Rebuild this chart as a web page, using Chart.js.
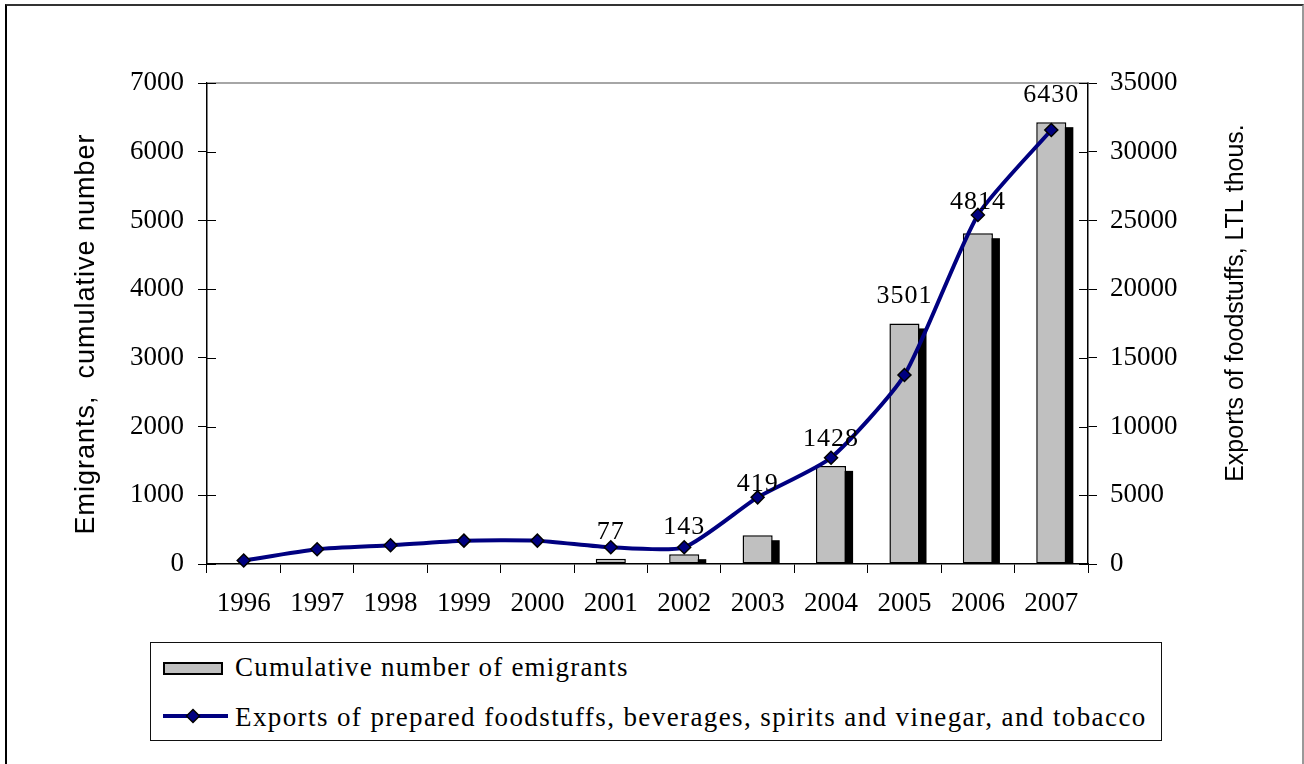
<!DOCTYPE html>
<html>
<head>
<meta charset="utf-8">
<script src="https://cdn.jsdelivr.net/npm/chart.js@4.4.0/dist/chart.umd.min.js"></script>
<style>
html,body{margin:0;padding:0;background:#fff;}
#wrap{position:relative;width:1304px;height:764px;overflow:hidden;background:#fff;}
#frame{position:absolute;left:5px;top:4px;width:1299px;height:800px;border-top:2px solid #333;border-left:2px solid #000;border-right:2px solid #999;box-sizing:border-box;}
canvas{position:absolute;left:0;top:0;}
#legend{position:absolute;left:150px;top:642px;width:1012px;height:99px;border:1px solid #111;box-sizing:border-box;font-family:'Liberation Serif','Times New Roman',serif;font-size:27px;letter-spacing:1.4px;color:#000;background:#fff;}
#legend .txt{position:absolute;left:84px;line-height:30px;white-space:nowrap;}
#legend .sw1{position:absolute;left:12px;top:19px;width:60px;height:13px;background:#c0c0c0;border:2px solid #000;box-sizing:border-box;}
#legend svg{position:absolute;left:12px;top:64px;}
</style>
</head>
<body>
<div id="wrap">
  <div id="frame"></div>
  <canvas id="c" width="1304" height="764"></canvas>
  <div id="legend">
    <div class="sw1"></div>
    <div class="txt" style="top:9px;letter-spacing:1.2px">Cumulative number of emigrants</div>
    <svg width="68" height="18" viewBox="0 0 68 18">
      <line x1="0" y1="9" x2="65" y2="9" stroke="#000080" stroke-width="4"/>
      <polygon points="30,2.5 36.5,9 30,15.5 23.5,9" fill="#000080" stroke="#000" stroke-width="1.5"/>
    </svg>
    <div class="txt" style="top:59px">Exports of prepared foodstuffs, beverages, spirits and vinegar, and tobacco</div>
  </div>
</div>
<script>
// ---- data ----
const years = ['1996','1997','1998','1999','2000','2001','2002','2003','2004','2005','2006','2007'];
const emigrants = [null, null, null, null, null, 77, 143, 419, 1428, 3501, 4814, 6430];
const exportsFood = [250, 1070, 1360, 1700, 1700, 1215, 1215, 4850, 7735, 13750, 25400, 31580];
const leftAxisMax = 7000, leftAxisStep = 1000;
const rightAxisMax = 35000, rightAxisStep = 5000;
const leftTitle = 'Emigrants,  cumulative number';
const rightTitle = 'Exports of foodstuffs, LTL thous.';

const SERIF = "'Liberation Serif','Times New Roman',serif";
const SANS = "'Liberation Sans',Arial,sans-serif";

const decor = {
  id: 'decor',
  beforeDatasetsDraw(chart) {
    const ctx = chart.ctx, a = chart.chartArea;
    const meta = chart.getDatasetMeta(0);
    ctx.save();
    ctx.beginPath();
    ctx.rect(a.left, a.top, a.right - a.left, a.bottom - a.top);
    ctx.clip();
    ctx.fillStyle = '#000';
    meta.data.forEach((bar, i) => {
      if (emigrants[i] == null) return;
      const p = bar.getProps(['x', 'y', 'base', 'width'], true);
      ctx.fillRect(p.x - p.width / 2 + 7, p.y + 5, p.width, p.base - p.y);
    });
    ctx.restore();
  },
  afterDraw(chart) {
    const ctx = chart.ctx, a = chart.chartArea;
    ctx.save();
    // top border of plot
    ctx.strokeStyle = '#888';
    ctx.lineWidth = 1.5;
    ctx.beginPath();
    ctx.moveTo(a.left, a.top);
    ctx.lineTo(a.right, a.top);
    ctx.stroke();
    // inner tick marks
    ctx.strokeStyle = '#000';
    ctx.lineWidth = 1;
    const ys = chart.scales.y, y2 = chart.scales.y2;
    ys.ticks.forEach(t => {
      const py = Math.round(ys.getPixelForValue(t.value)) + 0.5;
      ctx.beginPath(); ctx.moveTo(a.left, py); ctx.lineTo(a.left + 9, py); ctx.stroke();
    });
    y2.ticks.forEach(t => {
      const py = Math.round(y2.getPixelForValue(t.value)) + 0.5;
      ctx.beginPath(); ctx.moveTo(a.right - 9, py); ctx.lineTo(a.right, py); ctx.stroke();
    });
    // data labels
    const bars = chart.getDatasetMeta(0).data;
    const pts = chart.getDatasetMeta(1).data;
    ctx.fillStyle = '#000';
    ctx.font = '26px ' + SERIF;
    try { ctx.letterSpacing = '1px'; } catch (e) {}
    ctx.textAlign = 'center';
    ctx.textBaseline = 'middle';
    bars.forEach((bar, i) => {
      if (emigrants[i] == null) return;
      const yy = Math.min(bar.y - 27, pts[i].y - 13);
      ctx.fillText(String(emigrants[i]), bar.x, yy);
    });
    // axis titles
    ctx.textBaseline = 'alphabetic';
    ctx.save();
    ctx.translate(94, 334);
    ctx.rotate(-Math.PI / 2);
    ctx.font = '27px ' + SANS;
    try { ctx.letterSpacing = '1px'; } catch (e) {}
    ctx.fillText(leftTitle, 0, 0);
    ctx.restore();
    ctx.save();
    ctx.translate(1243, 303);
    ctx.rotate(-Math.PI / 2);
    ctx.font = '25px ' + SANS;
    try { ctx.letterSpacing = '0px'; } catch (e) {}
    ctx.fillText(rightTitle, 0, 0);
    ctx.restore();
    ctx.restore();
  }
};

const tickFont = { family: SERIF, size: 27 };
const plain = v => String(v);

new Chart(document.getElementById('c'), {
  type: 'bar',
  data: {
    labels: years,
    datasets: [
      {
        type: 'bar',
        label: 'Cumulative number of emigrants',
        data: emigrants,
        yAxisID: 'y',
        backgroundColor: '#c0c0c0',
        borderColor: '#000',
        borderWidth: 1.5,
        borderSkipped: false,
        barPercentage: 0.41,
        categoryPercentage: 1,
        order: 1
      },
      {
        type: 'line',
        label: 'Exports of prepared foodstuffs, beverages, spirits and vinegar, and tobacco',
        data: exportsFood,
        yAxisID: 'y2',
        borderColor: '#000080',
        borderWidth: 4,
        tension: 0.2,
        pointStyle: 'rectRot',
        pointRadius: 6.5,
        pointBackgroundColor: '#000080',
        pointBorderColor: '#000',
        pointBorderWidth: 1.5,
        fill: false,
        clip: false,
        order: 0
      }
    ]
  },
  options: {
    responsive: false,
    animation: false,
    events: [],
    layout: { padding: { top: 83, left: 0, right: 0, bottom: 0 } },
    plugins: { legend: { display: false }, tooltip: { enabled: false } },
    scales: {
      x: {
        grid: { offset: true, drawOnChartArea: false, tickLength: 9, color: '#000', lineWidth: 1 },
        border: { color: '#000', width: 1.5 },
        ticks: { font: tickFont, color: '#000', padding: 15, maxRotation: 0, autoSkip: false },
        afterFit(s) { s.height = 200; }
      },
      y: {
        position: 'left',
        min: 0, max: leftAxisMax,
        grid: { drawOnChartArea: false, tickLength: 9, color: '#000', lineWidth: 1 },
        border: { color: '#000', width: 1.5 },
        ticks: { stepSize: leftAxisStep, font: tickFont, color: '#000', padding: 14, callback: plain },
        afterFit(s) { s.width = 207; }
      },
      y2: {
        position: 'right',
        min: 0, max: rightAxisMax,
        grid: { drawOnChartArea: false, tickLength: 9, color: '#000', lineWidth: 1 },
        border: { color: '#000', width: 1.5 },
        ticks: { stepSize: rightAxisStep, font: tickFont, color: '#000', padding: 13, callback: plain },
        afterFit(s) { s.width = 216; }
      }
    }
  },
  plugins: [decor]
});
</script>
</body>
</html>
